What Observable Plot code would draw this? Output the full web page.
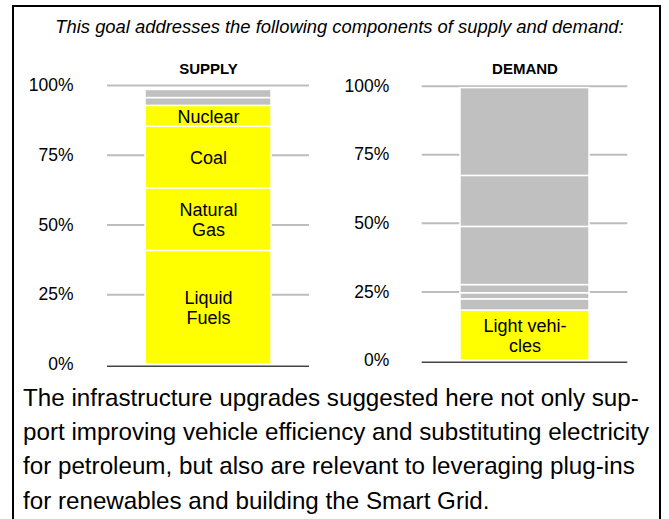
<!DOCTYPE html>
<html><head><meta charset="utf-8">
<script src="https://cdn.jsdelivr.net/npm/d3@7"></script>
<script src="https://cdn.jsdelivr.net/npm/@observablehq/plot@0.6"></script>
<style>
html,body{margin:0;padding:0;background:#fff;overflow:hidden;}
#page{position:relative;width:669px;height:519px;overflow:hidden;font-family:"Liberation Sans",Arial,Helvetica,sans-serif;color:#000;}
#frame{position:absolute;left:12px;top:5px;width:649px;height:600px;border:2px solid #000;box-sizing:border-box;}
#subtitle{position:absolute;left:0;width:679px;top:18.3px;text-align:center;font-style:italic;font-size:18.4px;line-height:1;white-space:nowrap;}
#supply{position:absolute;left:0;top:0;}
#demand{position:absolute;left:335px;top:0;}
#note{position:absolute;left:23px;top:380.5px;font-size:24.2px;line-height:34.4px;white-space:nowrap;}
</style>
</head><body>
<div id="page">
  <div id="frame"></div>
  <div id="subtitle">This goal addresses the following components of supply and demand:</div>
  <div id="supply"></div>
  <div id="demand"></div>
  <div id="note">The infrastructure upgrades suggested here not only sup-<br>port improving vehicle efficiency and substituting electricity<br>for petroleum, but also are relevant to leveraging plug-ins<br>for renewables and building the Smart Grid.</div>
</div>
<script>
// ---- data ----
const supplyLabels = ["Liquid\nFuels", "Natural\nGas", "Coal", "Nuclear", "", ""];
const supplyValues = [40.7, 22.4, 22.1, 7.5, 2.8, 2.9];
const supplyStatus = ["addressed", "addressed", "addressed", "addressed", "other", "other"];

const demandLabels = ["Light vehi-\ncles", "", "", "", "", "", ""];
const demandValues = [18.2, 4.1, 2.2, 3.0, 21.2, 18.6, 32.0];
const demandStatus = ["addressed", "other", "other", "other", "other", "other", "other"];

const yTicks = [0, 25, 50, 75, 100];
const gridTicks = [25, 50, 75, 100];

const FONT = '"Liberation Sans", Arial, Helvetica, sans-serif';

function panel(name, labels, values, status, o) {
  let cum = 0;
  const rows = values.map((v, i) => {
    const r = {panel: name, label: labels[i], status: status[i], y1: cum, y2: cum + v};
    cum += v;
    return r;
  });
  return Plot.plot({
    width: o.width, height: 380,
    marginTop: o.mt, marginBottom: o.mb, marginLeft: o.ml, marginRight: o.mr,
    x: {type: "band", domain: [name], padding: o.pad, axis: null},
    y: {domain: [0, 100], axis: null},
    color: {domain: ["addressed", "other"], range: ["#ffff00", "#c0c0c0"]},
    style: {fontFamily: FONT, fontSize: "17.5px", background: "transparent", color: "#000", overflow: "visible"},
    marks: [
      Plot.ruleY(gridTicks, {stroke: "#bdbdbd", strokeWidth: 2}),
      Plot.barY(rows, {x: "panel", y1: "y1", y2: "y2", fill: "status", stroke: "white", strokeWidth: 1.5}),
      Plot.ruleY([0], {stroke: "#444", strokeWidth: 1.5, dy: o.baseDy}),
      Plot.axisY({ticks: yTicks, tickFormat: d => d + "%", tickSize: 0, tickPadding: o.tp, label: null, fontSize: 17.5}),
      Plot.text(rows, {x: "panel", y: d => (d.y1 + d.y2) / 2, text: "label", fontSize: 18, lineHeight: 1.1, lineAnchor: "middle", fill: "#000"}),
      Plot.text([name], {x: d => d, frameAnchor: "top", lineAnchor: "bottom", dy: -12, fontWeight: "bold", fontSize: 15, fill: "#000"})
    ]
  });
}

document.getElementById("supply").append(
  panel("SUPPLY", supplyLabels, supplyValues, supplyStatus,
    {width: 335, mt: 85, mb: 16, ml: 107, mr: 26, pad: 0.2316, tp: 34, baseDy: 1.7}));
document.getElementById("demand").append(
  panel("DEMAND", demandLabels, demandValues, demandStatus,
    {width: 334, mt: 85.7, mb: 20, ml: 86.7, mr: 41.7, pad: 0.229, tp: 33, baseDy: 1.7}));
</script>
</body></html>
